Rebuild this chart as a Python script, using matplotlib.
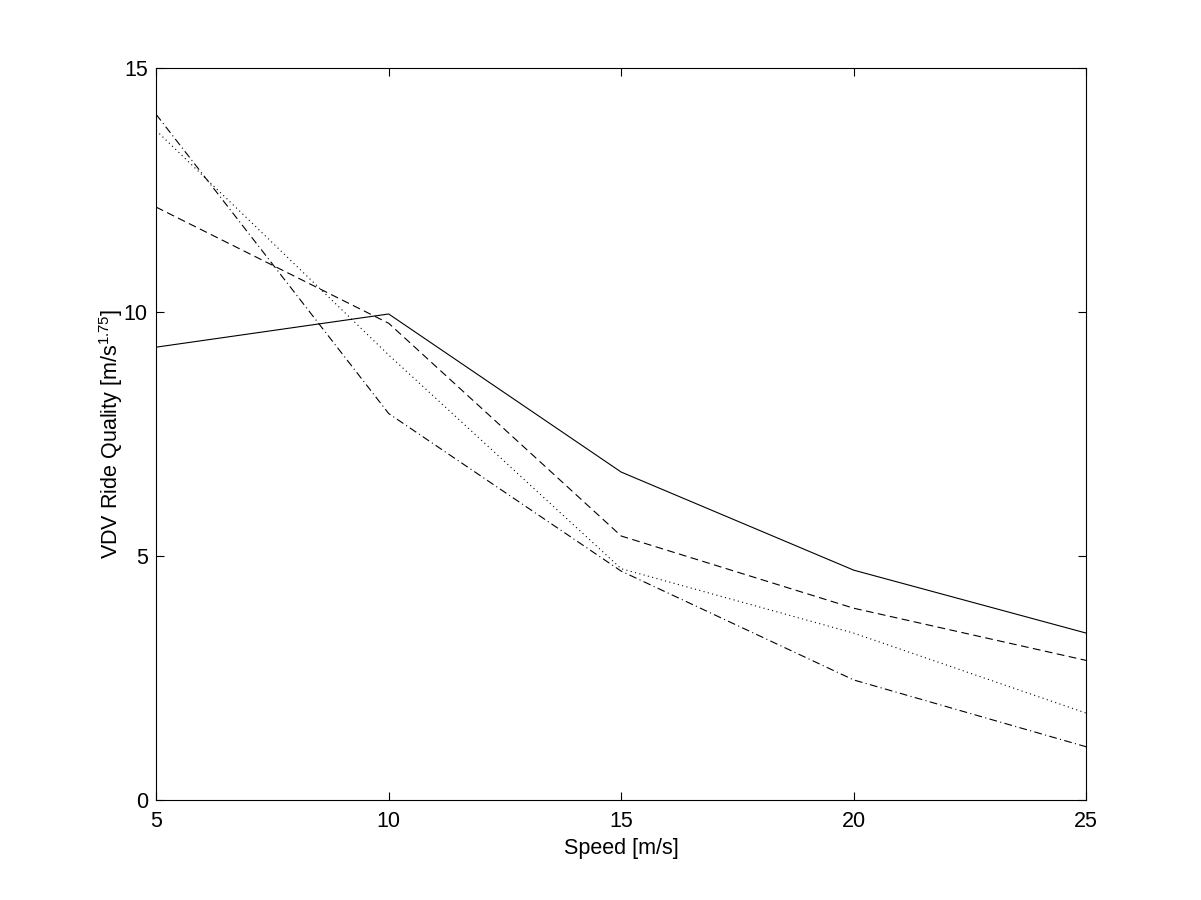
import matplotlib
matplotlib.use("Agg")
import matplotlib.pyplot as plt

speed = [5, 10, 15, 20, 25]
vdv_solid = [9.28, 9.96, 6.72, 4.71, 3.42]
vdv_dashed = [12.15, 9.77, 5.41, 3.93, 2.86]
vdv_dotted = [13.72, 9.12, 4.74, 3.42, 1.78]
vdv_dashdot = [14.05, 7.92, 4.69, 2.46, 1.09]

x_ticks = [5, 10, 15, 20, 25]
y_ticks = [0, 5, 10, 15]

plt.rcParams['font.family'] = ['Liberation Sans', 'DejaVu Sans']
plt.rcParams['mathtext.default'] = 'regular'

fig = plt.figure(figsize=(12.01, 9.0), dpi=100)
ax = fig.add_axes([0.13, 0.1111, 0.7745, 0.8133])

lw = 0.8
ax.plot(speed, vdv_solid, color='black', linestyle='-', linewidth=lw)
ax.plot(speed, vdv_dashed, color='black', linestyle=(0, (7, 4)), linewidth=lw)
ax.plot(speed, vdv_dotted, color='black', linestyle=(0, (1, 3)), linewidth=lw)
ax.plot(speed, vdv_dashdot, color='black', linestyle=(0, (7, 3, 1, 3)), linewidth=lw)

ax.set_xlim(5, 25)
ax.set_ylim(0, 15)
ax.set_xticks(x_ticks)
ax.set_yticks(y_ticks)
ax.tick_params(direction='in', length=6, width=0.8, top=True, right=True,
               labelsize=15.5, colors='black')
ax.tick_params(axis='x', pad=8)
ax.tick_params(axis='y', pad=6)
for s in ax.spines.values():
    s.set_linewidth(0.8)
ax.set_xlabel('Speed [m/s]', fontsize=15.5, labelpad=4)
ax.set_ylabel('VDV Ride Quality [m/s$^{1.75}$]', fontsize=15.5, labelpad=-1)

fig.savefig('out.png', dpi=100, facecolor='white')
